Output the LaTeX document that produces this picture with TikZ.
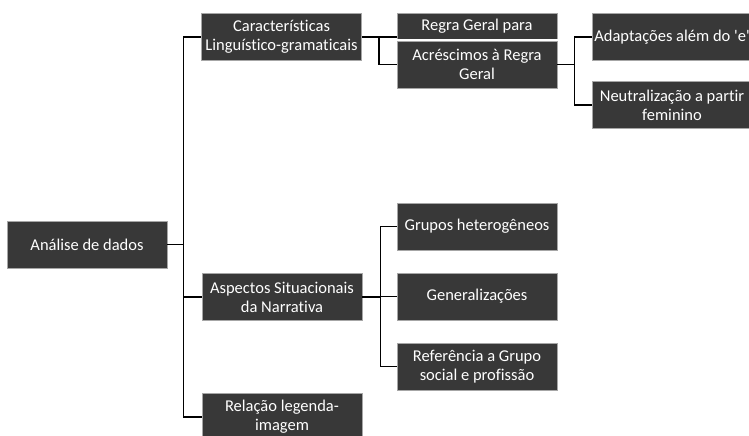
\documentclass[tikz,border=0pt]{standalone}
\usepackage{fontspec}
\setmainfont{Carlito}[Ligatures={CommonOff,TeXOff}]
\definecolor{boxfill}{HTML}{383838}
\definecolor{boxline}{HTML}{A6A6A6}
\begin{document}
\begin{tikzpicture}[x=1pt,y=-1pt,
    box/.style={draw=boxline,line width=0.8pt,fill=boxfill,text=white,
      minimum width=160pt,minimum height=47pt,inner sep=0pt,align=center,
      font=\fontsize{16.5}{19}\selectfont},
    link/.style={draw=black,line width=1.8pt}]
  \useasboundingbox (0,0) rectangle (749,436);
  \node[box] (ana) at (87,244.5) {Análise de dados};
  \node[box] (car) at (281.5,37) {Características\\Linguístico-gramaticais};
  \node[box] (asp) at (282,297) {Aspectos Situacionais\\da Narrativa};
  \node[box] (rel) at (282,417) {Relação legenda-\\imagem};
  \node[box] (reg) at (477,37) {Regra Geral para\\\strut};
  \node[box,preaction={draw=white,line width=4pt}] (acr) at (477,64.5) {Acréscimos à Regra\\Geral};
  \node[box] (ada) at (672,37) {Adaptações além do 'e'};
  \node[box] (neu) at (672,105) {Neutralização a partir\\feminino};
  \node[box] (grp) at (477,226.5) {Grupos heterogêneos};
  \node[box] (gen) at (477,296.5) {Generalizações};
  \node[box] (ref) at (477,366.5) {Referência a Grupo\\social e profissão};
  \begin{scope}[link]
    \draw (ana.east) -- ++(16,0) |- (car.west);
    \draw (ana.east) ++(16,0) |- (asp.west);
    \draw (ana.east) ++(16,0) |- (rel.west);
    \draw (car.east) -- (reg.west);
    \draw (car.east) ++(17,0) |- (acr.west);
    \draw (acr.east) -- ++(17,0) |- (ada.west);
    \draw (acr.east) ++(17,0) |- (neu.west);
    \draw (asp.east) -- ++(18,0) |- (grp.west);
    \draw (asp.east) ++(18,0) |- (gen.west);
    \draw (asp.east) ++(18,0) |- (ref.west);
  \end{scope}
\end{tikzpicture}
\end{document}
